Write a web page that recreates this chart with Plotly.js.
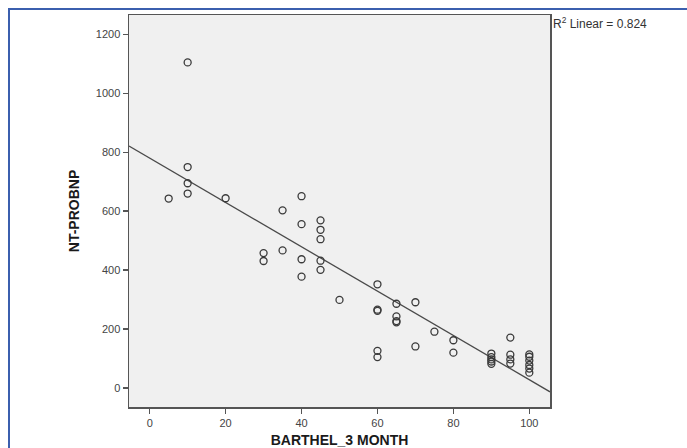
<!DOCTYPE html>
<html>
<head>
<meta charset="utf-8">
<script src="https://cdn.plot.ly/plotly-3.0.1.min.js"></script>
<style>
  html, body { margin: 0; padding: 0; background: #ffffff; }
  #wrap { position: relative; width: 687px; height: 448px; overflow: hidden; }
  #frame { position: absolute; left: 8px; top: 8px; width: 700px; height: 460px;
           border-top: 2px solid #3b5fae; border-left: 2px solid #3b5fae; box-sizing: border-box; }
  #chart { position: absolute; left: 0; top: 0; width: 687px; height: 448px; }
</style>
</head>
<body>
<div id="wrap">
  <div id="frame"></div>
  <div id="chart"></div>
</div>
<script>
// Data
const barthel3Month = [5, 10, 10, 10, 10, 20, 30, 30, 35, 35,
  40, 40, 40, 40, 45, 45, 45, 45, 45, 50,
  60, 60, 60, 60, 60, 65, 65, 65, 65, 70, 70, 75, 80, 80,
  90, 90, 90, 90, 90, 95, 95, 95, 95,
  100, 100, 100, 100, 100, 100];
const ntProBnp = [643, 1105, 750, 695, 660, 644, 458, 431, 603, 467,
  651, 556, 437, 378, 569, 537, 505, 432, 401, 299,
  352, 266, 262, 126, 105, 286, 243, 227, 223, 291, 141, 191, 162, 120,
  117, 105, 97, 90, 82, 171, 113, 97, 83,
  114, 106, 93, 78, 66, 52];
const fitIntercept = 780;
const fitSlope = -7.52;
const rSquared = 0.824;
const xRange = [-5.45, 105.45];
const yRange = [-64.5, 1266];
const xTicks = [0, 20, 40, 60, 80, 100];
const yTicks = [0, 200, 400, 600, 800, 1000, 1200];

const fitX = xRange.slice();
const fitY = fitX.map(v => fitIntercept + fitSlope * v);

const tickFont = { family: '"Liberation Sans Narrow", "Arial Narrow", "Liberation Sans", Arial, sans-serif', size: 11, color: '#444444' };
const titleFont = { family: '"Liberation Sans", Arial, sans-serif', size: 14, color: '#1a1a1a', weight: 'bold' };

const traces = [
  {
    x: fitX, y: fitY, type: 'scatter', mode: 'lines',
    line: { color: '#4a4a4a', width: 1.3 },
    hoverinfo: 'skip', showlegend: false, cliponaxis: true
  },
  {
    x: barthel3Month, y: ntProBnp, type: 'scatter', mode: 'markers',
    marker: { symbol: 'circle-open', size: 7, color: '#3a3a3a', line: { width: 1.3, color: '#3a3a3a' } },
    showlegend: false
  }
];

const layout = {
  width: 687, height: 448,
  margin: { l: 129, r: 137, t: 15, b: 41 },
  paper_bgcolor: 'rgba(0,0,0,0)',
  plot_bgcolor: '#f0f0f0',
  showlegend: false,
  xaxis: {
    range: xRange, tickvals: xTicks, ticktext: xTicks.map(String),
    showgrid: false, zeroline: false,
    showline: true, mirror: true, linecolor: '#555555', linewidth: 1.5,
    ticks: 'outside', ticklen: 5, tickwidth: 1.5, tickcolor: '#555555',
    tickfont: tickFont,
    title: { text: 'BARTHEL_3 MONTH', font: titleFont, standoff: 10 }
  },
  yaxis: {
    range: yRange, tickvals: yTicks, ticktext: yTicks.map(String),
    showgrid: false, zeroline: false,
    showline: true, mirror: true, linecolor: '#555555', linewidth: 1.5,
    ticks: 'outside', ticklen: 5, tickwidth: 1.5, tickcolor: '#555555',
    tickfont: tickFont,
    title: { text: 'NT-PROBNP', font: titleFont, standoff: 13 }
  },
  annotations: [{
    xref: 'paper', yref: 'paper', x: 1, y: 0.98,
    xanchor: 'left', yanchor: 'middle', xshift: 1, showarrow: false,
    text: 'R<sup>2</sup> Linear = ' + rSquared.toFixed(3),
    font: { family: '"Liberation Sans Narrow", "Arial Narrow", Arial, sans-serif', size: 12, color: '#333333' }
  }]
};

Plotly.newPlot('chart', traces, layout, { displayModeBar: false, staticPlot: true });
</script>
</body>
</html>
